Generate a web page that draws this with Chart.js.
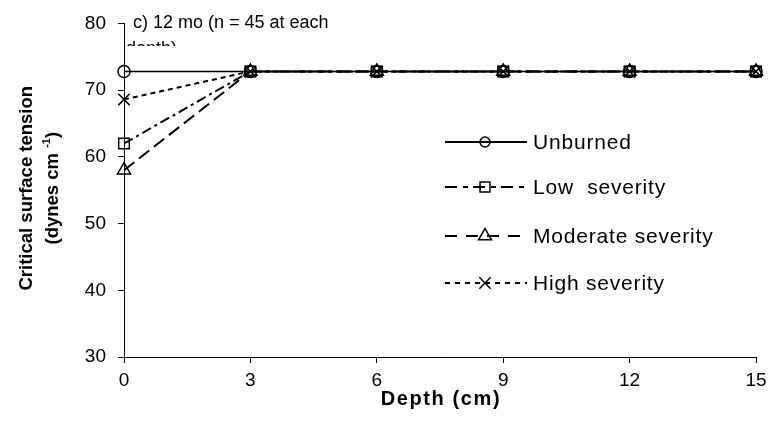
<!DOCTYPE html>
<html>
<head>
<meta charset="utf-8">
<script src="https://cdn.jsdelivr.net/npm/chart.js@4/dist/chart.umd.min.js"></script>
<style>
  html, body { margin: 0; padding: 0; background: #fff; }
  #wrap { width: 773px; height: 437px; }
</style>
</head>
<body>
<div id="wrap"><canvas id="tensionChart" width="773" height="437"></canvas></div>
<script>
  const depths = [0, 3, 6, 9, 12, 15];
  const unburned = [72.8, 72.8, 72.8, 72.8, 72.8, 72.8];
  const lowSeverity = [62.0, 72.8, 72.8, 72.8, 72.8, 72.8];
  const moderateSeverity = [58.0, 72.8, 72.8, 72.8, 72.8, 72.8];
  const highSeverity = [68.6, 72.8, 72.8, 72.8, 72.8, 72.8];
  const seriesNames = ['Unburned', 'Low  severity', 'Moderate severity', 'High severity'];

  const font = '"Liberation Sans", Arial, sans-serif';
  const toPoints = (vals) => vals.map((v, i) => ({ x: depths[i], y: v }));

  const styles = [
    { dash: [], marker: 'circle', radius: 6, legendRadius: 5, legendDash: [] },
    { dash: [10, 4, 3, 4], marker: 'rect', radius: 7.5, legendRadius: 7, legendDash: [12, 6, 5, 5] },
    { dash: [13, 6], marker: 'triangle', radius: 7.5, legendRadius: 7.5, legendDash: [12, 9] },
    { dash: [5, 4], marker: 'crossRot', radius: 8, legendRadius: 8, legendDash: [5, 5] }
  ];
  const allValues = [unburned, lowSeverity, moderateSeverity, highSeverity];

  // title, legend and axis titles drawn by hand
  const decorations = {
    id: 'decorations',
    afterDraw(chart) {
      const c = chart.ctx;
      const area = chart.chartArea;
      c.save();
      c.fillStyle = '#000';
      c.font = '18px ' + font;
      c.textBaseline = 'alphabetic';
      c.textAlign = 'left';
      c.fillText('c) 12 mo (n = 45 at each', 133, 28);
      c.save();
      c.beginPath();
      c.rect(120, 31, 200, 15);
      c.clip();
      c.fillText('depth)', 126, 54);
      c.restore();

      // x title
      c.font = 'bold 20px ' + font;
      c.letterSpacing = '1.6px';
      c.textAlign = 'center';
      c.fillText('Depth (cm)', (area.left + area.right) / 2 + 1, 405);
      c.letterSpacing = '0px';

      // y title
      const midY = (area.top + area.bottom) / 2 - 2;
      c.save();
      c.translate(32, midY);
      c.rotate(-Math.PI / 2);
      c.font = 'bold 18.5px ' + font;
      c.fillText('Critical surface tension', 0, 0);
      c.restore();
      c.save();
      c.translate(58, midY);
      c.rotate(-Math.PI / 2);
      const main = '(dynes cm ';
      const sup = '-1';
      const close = ')';
      c.font = 'bold 18.5px ' + font;
      const w1 = c.measureText(main).width;
      c.font = 'bold 11px ' + font;
      const w2 = c.measureText(sup).width;
      c.font = 'bold 18.5px ' + font;
      const w3 = c.measureText(close).width;
      const sx = -(w1 + w2 + w3) / 2;
      c.textAlign = 'left';
      c.fillText(main, sx, 0);
      c.font = 'bold 11px ' + font;
      c.fillText(sup, sx + w1, -8);
      c.font = 'bold 18.5px ' + font;
      c.fillText(close, sx + w1 + w2, 0);
      c.restore();

      // legend
      const legendY = [142, 187, 236, 283];
      c.font = '21px ' + font;
      c.letterSpacing = '0.8px';
      c.textAlign = 'left';
      c.textBaseline = 'middle';
      legendY.forEach((y, i) => {
        c.strokeStyle = '#000';
        c.lineWidth = 2;
        c.setLineDash(styles[i].legendDash);
        c.beginPath();
        c.moveTo(445, y);
        c.lineTo(527, y);
        c.stroke();
        c.setLineDash([]);
        c.fillStyle = 'rgba(0,0,0,0)';
        c.strokeStyle = '#000';
        c.lineWidth = 1.5;
        Chart.helpers.drawPoint(c, { pointStyle: styles[i].marker, radius: styles[i].legendRadius, rotation: 0, borderWidth: 1.5 }, 485, y);
        c.fillStyle = '#000';
        c.fillText(seriesNames[i], 533, y + 1);
      });
      c.restore();
    }
  };

  const ctx = document.getElementById('tensionChart').getContext('2d');
  const tensionChart = new Chart(ctx, {
    type: 'line',
    data: {
      datasets: allValues.map((vals, i) => ({
        label: seriesNames[i],
        data: toPoints(vals),
        borderColor: '#000',
        borderWidth: i === 0 ? 1.5 : 2,
        borderDash: styles[i].dash,
        pointStyle: styles[i].marker,
        pointRadius: styles[i].radius,
        pointBackgroundColor: 'rgba(0,0,0,0)',
        pointBorderColor: '#000',
        pointBorderWidth: 1.5,
        tension: 0,
        fill: false,
        clip: false
      })).reverse()
    },
    options: {
      responsive: false,
      animation: false,
      layout: { padding: { top: 22, right: 17, left: 0, bottom: 0 } },
      scales: {
        x: {
          type: 'linear',
          min: 0,
          max: 15,
          ticks: { stepSize: 3, color: '#000', font: { family: font, size: 19 }, padding: 6 },
          grid: { drawOnChartArea: false, color: '#000', tickLength: 6 },
          border: { color: '#000', width: 1 },
          afterFit(scale) { scale.height = 80; }
        },
        y: {
          min: 30,
          max: 80,
          ticks: { stepSize: 10, color: '#000', font: { family: font, size: 19 }, padding: 12 },
          grid: { drawOnChartArea: false, color: '#000', tickLength: 6 },
          border: { color: '#000', width: 1 },
          afterFit(scale) { scale.width = 124; }
        }
      },
      plugins: {
        legend: { display: false },
        tooltip: { enabled: false }
      }
    },
    plugins: [decorations]
  });
</script>
</body>
</html>
